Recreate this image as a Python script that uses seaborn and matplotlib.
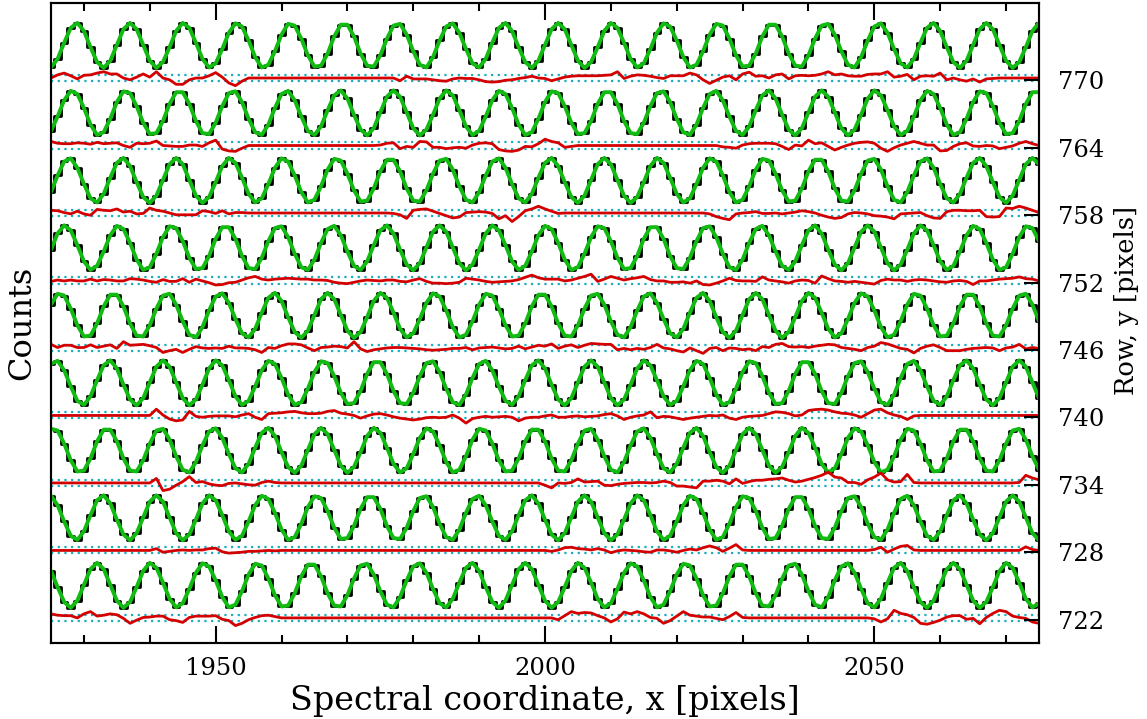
import numpy as np
import pandas as pd
import matplotlib
matplotlib.use("Agg")
import matplotlib.pyplot as plt
import seaborn as sns
from matplotlib.ticker import MultipleLocator

# spectral pixel positions (x) and detector rows (y)
pixel_x = np.arange(1925, 2076)
row_ids = [770, 764, 758, 752, 746, 740, 734, 728, 722]

# counts per pixel (0-100 scaled)
counts_770 = [1, 20, 56, 89, 100, 82, 46, 13, 0, 16, 51, 86,
              100, 86, 51, 16, 0, 13, 46, 82, 100, 89, 56, 20, 1, 10, 42, 78, 99, 92, 61, 24, 1, 7, 37, 74, 98, 94, 65, 28, 3, 5, 32, 70, 96, 96, 70, 32, 5, 3, 28, 65, 94, 98, 74, 37, 7, 1, 24, 61, 92, 99, 78, 42, 10, 1, 20, 56, 89, 100, 82, 46, 13, 0, 16, 51, 86,
              100, 86, 51, 16, 0, 13, 46, 82, 100, 89, 56, 20, 1, 10, 42, 78, 99, 92, 61, 24, 1, 7, 37, 74, 98, 94, 65, 28, 3, 5, 32, 70, 96, 96, 70, 32, 5, 3, 28, 65, 94, 98, 74, 37, 7, 1, 24, 61, 92, 99, 78, 42, 10, 1, 20, 56, 89, 100, 82, 46, 13, 0, 16, 51, 86,
              100, 86, 51, 16, 0, 13, 46, 82, 100]
counts_764 = [10, 42, 78, 99, 92, 61, 24, 1, 7, 37, 74, 98, 94, 65, 28, 3, 5, 32, 70, 96, 96, 70, 32, 5, 3, 28, 65, 94, 98, 74, 37, 7, 1, 24, 61, 92, 99, 78, 42, 10, 1, 20, 56, 89, 100, 82, 46, 13, 0, 16, 51, 86,
              100, 86, 51, 16, 0, 13, 46, 82, 100, 89, 56, 20, 1, 10, 42, 78, 99, 92, 61, 24, 1, 7, 37, 74, 98, 94, 65, 28, 3, 5, 32, 70, 96, 96, 70, 32, 5, 3, 28, 65, 94, 98, 74, 37, 7, 1, 24, 61, 92, 99, 78, 42, 10, 1, 20, 56, 89, 100, 82, 46, 13, 0, 16, 51, 86,
              100, 86, 51, 16, 0, 13, 46, 82, 100, 89, 56, 20, 1, 10, 42, 78, 99, 92, 61, 24, 1, 7, 37, 74, 98, 94, 65, 28, 3, 5, 32, 70, 96, 96]
counts_758 = [24, 61, 92, 99, 78, 42, 10, 1, 20, 56, 89, 100, 82, 46, 13, 0, 16, 51, 86,
              100, 86, 51, 16, 0, 13, 46, 82, 100, 89, 56, 20, 1, 10, 42, 78, 99, 92, 61, 24, 1, 7, 37, 74, 98, 94, 65, 28, 3, 5, 32, 70, 96, 96, 70, 32, 5, 3, 28, 65, 94, 98, 74, 37, 7, 1, 24, 61, 92, 99, 78, 42, 10, 1, 20, 56, 89, 100, 82, 46, 13, 0, 16, 51, 86,
              100, 86, 51, 16, 0, 13, 46, 82, 100, 89, 56, 20, 1, 10, 42, 78, 99, 92, 61, 24, 1, 7, 37, 74, 98, 94, 65, 28, 3, 5, 32, 70, 96, 96, 70, 32, 5, 3, 28, 65, 94, 98, 74, 37, 7, 1, 24, 61, 92, 99, 78, 42, 10, 1, 20, 56, 89, 100, 82, 46, 13, 0, 16, 51, 86,
              100, 86]
counts_752 = [46, 82, 100, 89, 56, 20, 1, 10, 42, 78, 99, 92, 61, 24, 1, 7, 37, 74, 98, 94, 65, 28, 3, 5, 32, 70, 96, 96, 70, 32, 5, 3, 28, 65, 94, 98, 74, 37, 7, 1, 24, 61, 92, 99, 78, 42, 10, 1, 20, 56, 89, 100, 82, 46, 13, 0, 16, 51, 86,
              100, 86, 51, 16, 0, 13, 46, 82, 100, 89, 56, 20, 1, 10, 42, 78, 99, 92, 61, 24, 1, 7, 37, 74, 98, 94, 65, 28, 3, 5, 32, 70, 96, 96, 70, 32, 5, 3, 28, 65, 94, 98, 74, 37, 7, 1, 24, 61, 92, 99, 78, 42, 10, 1, 20, 56, 89, 100, 82, 46, 13, 0, 16, 51, 86,
              100, 86, 51, 16, 0, 13, 46, 82, 100, 89, 56, 20, 1, 10, 42, 78, 99, 92, 61, 24, 1, 7, 37, 74, 98, 94, 65]
counts_746 = [74, 98, 94, 65, 28, 3, 5, 32, 70, 96, 96, 70, 32, 5, 3, 28, 65, 94, 98, 74, 37, 7, 1, 24, 61, 92, 99, 78, 42, 10, 1, 20, 56, 89, 100, 82, 46, 13, 0, 16, 51, 86,
              100, 86, 51, 16, 0, 13, 46, 82, 100, 89, 56, 20, 1, 10, 42, 78, 99, 92, 61, 24, 1, 7, 37, 74, 98, 94, 65, 28, 3, 5, 32, 70, 96, 96, 70, 32, 5, 3, 28, 65, 94, 98, 74, 37, 7, 1, 24, 61, 92, 99, 78, 42, 10, 1, 20, 56, 89, 100, 82, 46, 13, 0, 16, 51, 86,
              100, 86, 51, 16, 0, 13, 46, 82, 100, 89, 56, 20, 1, 10, 42, 78, 99, 92, 61, 24, 1, 7, 37, 74, 98, 94, 65, 28, 3, 5, 32, 70, 96, 96, 70, 32, 5, 3, 28, 65, 94, 98, 74, 37]
counts_740 = [92, 99, 78, 42, 10, 1, 20, 56, 89, 100, 82, 46, 13, 0, 16, 51, 86,
              100, 86, 51, 16, 0, 13, 46, 82, 100, 89, 56, 20, 1, 10, 42, 78, 99, 92, 61, 24, 1, 7, 37, 74, 98, 94, 65, 28, 3, 5, 32, 70, 96, 96, 70, 32, 5, 3, 28, 65, 94, 98, 74, 37, 7, 1, 24, 61, 92, 99, 78, 42, 10, 1, 20, 56, 89, 100, 82, 46, 13, 0, 16, 51, 86,
              100, 86, 51, 16, 0, 13, 46, 82, 100, 89, 56, 20, 1, 10, 42, 78, 99, 92, 61, 24, 1, 7, 37, 74, 98, 94, 65, 28, 3, 5, 32, 70, 96, 96, 70, 32, 5, 3, 28, 65, 94, 98, 74, 37, 7, 1, 24, 61, 92, 99, 78, 42, 10, 1, 20, 56, 89, 100, 82, 46, 13, 0, 16, 51, 86,
              100, 86, 51, 16]
counts_734 = [98, 94, 65, 28, 3, 5, 32, 70, 96, 96, 70, 32, 5, 3, 28, 65, 94, 98, 74, 37, 7, 1, 24, 61, 92, 99, 78, 42, 10, 1, 20, 56, 89, 100, 82, 46, 13, 0, 16, 51, 86,
              100, 86, 51, 16, 0, 13, 46, 82, 100, 89, 56, 20, 1, 10, 42, 78, 99, 92, 61, 24, 1, 7, 37, 74, 98, 94, 65, 28, 3, 5, 32, 70, 96, 96, 70, 32, 5, 3, 28, 65, 94, 98, 74, 37, 7, 1, 24, 61, 92, 99, 78, 42, 10, 1, 20, 56, 89, 100, 82, 46, 13, 0, 16, 51, 86,
              100, 86, 51, 16, 0, 13, 46, 82, 100, 89, 56, 20, 1, 10, 42, 78, 99, 92, 61, 24, 1, 7, 37, 74, 98, 94, 65, 28, 3, 5, 32, 70, 96, 96, 70, 32, 5, 3, 28, 65, 94, 98, 74, 37, 7]
counts_728 = [99, 78, 42, 10, 1, 20, 56, 89, 100, 82, 46, 13, 0, 16, 51, 86,
              100, 86, 51, 16, 0, 13, 46, 82, 100, 89, 56, 20, 1, 10, 42, 78, 99, 92, 61, 24, 1, 7, 37, 74, 98, 94, 65, 28, 3, 5, 32, 70, 96, 96, 70, 32, 5, 3, 28, 65, 94, 98, 74, 37, 7, 1, 24, 61, 92, 99, 78, 42, 10, 1, 20, 56, 89, 100, 82, 46, 13, 0, 16, 51, 86,
              100, 86, 51, 16, 0, 13, 46, 82, 100, 89, 56, 20, 1, 10, 42, 78, 99, 92, 61, 24, 1, 7, 37, 74, 98, 94, 65, 28, 3, 5, 32, 70, 96, 96, 70, 32, 5, 3, 28, 65, 94, 98, 74, 37, 7, 1, 24, 61, 92, 99, 78, 42, 10, 1, 20, 56, 89, 100, 82, 46, 13, 0, 16, 51, 86,
              100, 86, 51, 16, 0]
counts_722 = [82, 46, 13, 0, 16, 51, 86,
              100, 86, 51, 16, 0, 13, 46, 82, 100, 89, 56, 20, 1, 10, 42, 78, 99, 92, 61, 24, 1, 7, 37, 74, 98, 94, 65, 28, 3, 5, 32, 70, 96, 96, 70, 32, 5, 3, 28, 65, 94, 98, 74, 37, 7, 1, 24, 61, 92, 99, 78, 42, 10, 1, 20, 56, 89, 100, 82, 46, 13, 0, 16, 51, 86,
              100, 86, 51, 16, 0, 13, 46, 82, 100, 89, 56, 20, 1, 10, 42, 78, 99, 92, 61, 24, 1, 7, 37, 74, 98, 94, 65, 28, 3, 5, 32, 70, 96, 96, 70, 32, 5, 3, 28, 65, 94, 98, 74, 37, 7, 1, 24, 61, 92, 99, 78, 42, 10, 1, 20, 56, 89, 100, 82, 46, 13, 0, 16, 51, 86,
              100, 86, 51, 16, 0, 13, 46, 82, 100, 89, 56, 20, 1, 10]

# fit residuals per pixel, same units as counts
resid_770 = [0, 7, 11, 5, -2, 6, 7, 11, 14, 9, 9, 0, -4, 2, 9, 2, 14, 0, -4, -14, -14, -4, 0, 0, 5, 12, 2, -11, -17, -7, 0,
             0, 0, 0, 0, 0, 0, 0, 0, 0, 0, 0, 0, 0, 0, 0, 0, 0, 0, 0, 0, 0, 0,
             -6, 4, -2, -2, -2, -4, -6, -7, -2, 0, -1, -1, -4, -8, -9, -8, -5, -4, -1, 1, 4, 0, -1, -6, -2, 2, 4, 5, 5, 5,
             5, 6, 7, 14, -1, 4, 7, 6, 4, 1, -1, 5, 5, 5, 11, 7, -4, -12,
             -5, 2, 5, -4, 9, 13, 4, 5, 0, 7, 9, -2, 5, 6, 5, 6, 9, 14, 7, 9, 5, 4, 4, 8, 9, 9, 14, 2, 4, 8,
             -4, 4, 5, 4, 11, -4, 0, -4, -7, -2, -9, -2, -1,
             0, 0, 0, 0, 0, 0, 0]
resid_764 = [9, 5, 4, 4, 6, 5, 3, 7, 4, 5, 6, 0, -4, 5, 4, 5, 10, 0, -1, -2, -2, 1, 1, -2, 6, 12, -8, -12, -13, -6, 0,
             0, 0, 0, 0, 0, 0, 0, 0, 0, 0, 0, 0, 0, 0, 0, 0, 0, 0, 0,
             1, 5, 6, -7, -2, -4, 9, 8, -4, -4, -7, -5, -4, -6, 1, 5, 6, 4, -9, -12, -13, -10, -2, -3, 4, 14, 9, 6, -4, -2, 0,
             0, 0, 0, 0, 0, 0, 0, 0, 0, 0, 0, 0, 0, 0, 0, 0, 0, 0, 0, 0, 0,
             -3, -4, -6, 1, 4, 5, 5, 5, 4, -2, -9, 1, -1, 12, 4, 6, -2, -10, -4, 1, 5, 7, 8, 5, -6,
             -13, -5, 1, 5, 9, 5, 1, 1, -12, -11, -2, 4, 6, -1, -2, 0, -1, -7, -4, -1, 5, 9, 4, 0]
resid_758 = [6, 5, 1, -2, 4, -2, -5, 8, 6, 5, 9, 2, 4, -2, -1, 11, 6, 4, 0, -4, -4, -4, -4, 5, 3, -1, 5, -2, 1, 1, 0,
             0, 0, 0, 0, 0, 0, 0, 0, 0, 0, 0, 0, 0, 0, 0, 0, 0, 0, 0, 0, 0,
             -1, -4, -12, 6, 8, 9, 4, -1, -6, -11, -9, 1, 2, 3, 2, -1, -13, -6, -19, -8, 5, 9, 15, 9, 4, -1,
             0, 0, 0, 0, 0, 0, 0, 0, 0, 0, 0, 0, 0, 0, 0, 0, 0, 0, 0, 0, 0, 0,
             -2, -8, -12, -15, -2, 0, 1, 3, -1, -1, 0, -2, 0, 2, 5, 3, 0, -5, -9, -12, -10, -2, 1, 0, -2,
             -6, -7, -9, -13, -2, -1, 0, 1, -6, -11, -12, 3, 6, 6, 5, 5, 6, -8, -9, -8, 11, 10, 15, 11, 6, 1]
resid_752 = [-2, 1, -1, 1, -1, -1, 3, -1, 2, 1, -1, -1, 4, 3, 1, -2, -4, 2, -2, -2, 4, -4, 3, -1, -5,
             -10, -9, -5, -4, 1, 6, 9, 3, 1, 3, 4, 5, 4, 3, 3, 1, 1, 0, -4, -6, -7, -4, -1, 1, 0,
             -1, 1, 1, -2, -3, 1, 4, -2, -6, -6, -7, -6, -4, 5, 3, 1, -2, -4, -3, -2, -1, 2, 7, 12, 6,
             3, 3, 3, -1, 1, 5, 9, 14, -2, 3, 9, 5, 1, 4, 6, 9, 2, -1, -1, -4, -4, -3, -6, -1, -9,
             -10, -6, -1, 5, 0, -1, -1, -2, 8, 1, -1, -3, -6, -1, 1, 0, -6, 10, 4, -1, -2, -4, -2, -4, -6,
             -8, 0, 3, 1, 1, -2, 1, 2, 1, -1, -3, -4, -1, 0, -2, -9, -1, -1, 1, 3, 4, 5, 8, 4, 3, -1]
resid_746 = [8, 1, 6, 6, 1, 1, 7, 1, 4, 7, -1, 14, 6, 7, 8, 5, 1, -10, -6, -3, -10, -3, 3, 0, -1,
             0, -1, 4, 0, 0, -1, -4, -10, 1, -1, 5, 9, 9, 7, 0, -6, 1, 2, 4, 3, 0, 14, -2, -8, -4,
             -2, 0, 1, 1, 0, -1, -2, -4, -5, -4, -3, -1, -1, 1, -4, 0, 1, 2, 0, -2, -1, 4, -2, 2, 6,
             4, 9, -1, 4, 7, 1, 6, 10, 9, 8, 8, -4, -1, -4, -1, -3, 1, 8, 0, -2, -6, -9, 0, -6, -12,
             -1, 1, -6, 0, -1, -4, -2, -6, 3, 1, 8, 10, 3, 2, 3, 1, 4, 6, 8, 7, 1, -1, -3, -6, 1,
             4, 12, 9, 4, -1, -3, -11, -1, 4, 7, 1, -6, -6, -6, -3, -1, 0, 1, 0, -6, 0, 2, 8, -2, 1, -1]
resid_740 = [0, 0, 0, 0, 0, 0, 0, 0, 0, 0, 0, 0, 0, 0, 0, 0,
             14, 1, -8, -12, -10, 9, -2, -4, -2, -1, -1, -1, -3, 1, 4, -4, -9, 4, 5, 6,
             8, 9, 6, 4, 4, 5, 9, 11, 5, 3, 0, -6, -1, 3,
             4, 1, -3, -6, -8, -10, -8, -5, -4, -5, -4, 1, -6, -17, -7, -4, -2, -4, -3, -2, -4, -12, -6, -4, -4,
             -1, 1, -4, -4, -2, -1, -3, -2, -1, 2, 4, -1, -9, -4, -1, 1, 8, -5, -2, -3, -6, -9, -6, -4, -2,
             0, -1, 1, -6, -9, -4, -2, -1, 0, 4, 8, 7, 4, -1, 1, 11, 13, 14, 12, 8, 5, 4, 1, -4, 4,
             12, 14, 6, 1, -2, -9, -1,
             0, 0, 0, 0, 0, 0, 0, 0, 0, 0, 0, 0, 0, 0, 0, 0, 0, 0, 0]
resid_734 = [0, 0, 0, 0, 0, 0, 0, 0, 0, 0, 0, 0, 0, 0, 0, 0,
             10, -17, -14, -5, 3, 14, 1, 3, -2, -5, -6, -1, 0, -2, -4, -5, 1, 4, 1,
             0, 0, 0, 0, 0, 0, 0, 0, 0, 0, 0, 0, 0, 0, 0, 0, 0, 0, 0, 0,
             0, 0, 0, 0, 0, 0, 0, 0, 0, 0, 0, 0, 0, 0, 0, 0, 0, 0, 0, 0,
             -5, -11, 0, -1, 1, 9, 2, 3, 4, -5, -6, -3, -1, 0, 1, 1, 0, 1, 4, 1, -7, -7, -9, -11, 4,
             4, 6, 4, -2, 9, -1, 3, 6, 6, 8, 9, 11, 6, 2, 4, 8, 12, 17, 24, 13, 11, 1, 1, -3, 7, 13,
             22, 7, 2, 3, 19, 1,
             0, 0, 0, 0, 0, 0, 0, 0, 0, 0, 0, 0, 0, 0, 0,
             1, 17, 11, 7]
resid_728 = [0, 0, 0, 0, 0, 0, 0, 0, 0, 0, 0, 0, 0, 0, 0, 0,
             4, -4, -2, 0, 1, 0, 1, 1, 4, 5, -3, -6, -5, -4, -2, -2, -1, 0, -1,
             0, 0, 0, 0, 0, 0, 0, 0, 0, 0, 0, 0, 0, 0, 0, 0, 0, 0, 0, 0, 0,
             0, 0, 0, 0, 0, 0, 0, 0, 0, 0, 0, 0, 0, 0, 0, 0, 0, 0, 0, 0,
             -2, 1, 6, 7, 4, 3, 1, 4, 1, -5, -1, 1, 0, -1, -3, -4, 1, 1, -1, -4, 0, 3, 1, 6,
             10, 6, -2, 5, 13, 1,
             0, 0, 0, 0, 0, 0, 0, 0, 0, 0, 0, 0, 0, 0, 0, 0, 0, 0, 0,
             2, 7, -4, 3, 9, 11, 1,
             0, 0, 0, 0, 0, 0, 0, 0, 0, 0, 0, 0, 0, 0, 0, 0,
             8, 2, 0]
resid_722 = [9, 6, 5, 5, 0, 9, 14, 4, 6, 9, 7, -1, -12, -5, 1, 2, 4, 4, -4, -6, -10, 1, 4, 4, 4,
             5, -3, -6, -17, -12, -4, 1, 5, 6, 3, 0,
             0, 0, 0, 0, 0, 0, 0, 0, 0, 0, 0, 0, 0, 0, 0, 0, 0, 0, 0, 0,
             0, 0, 0, 0, 0, 0, 0, 0, 0, 0, 0, 0, 0, 0, 0, 0, 0, 0, 0, 0, 0,
             -4, 5, 14, 10, 12, 11, 5, 0, -9, -2, 13, 9, 14, 9, 1, -1, -12, -6, 4, 14, 6, 4, 2,
             2, -1, -4, 3, 12, 1,
             0, 0, 0, 0, 0, 0, 0, 0, 0, 0, 0, 0, 0, 0, 0, 0, 0, 0, 0,
             -2, -9, -2, 17, 10, 7, 1, -12, -14, -10, -5, 2, 5, 5, -3, -1, -13, 1, 10, 17, 14, 4, 1, -1, -9, -12]

counts_by_row = {770: counts_770, 764: counts_764, 758: counts_758, 752: counts_752, 746: counts_746,
                 740: counts_740, 734: counts_734, 728: counts_728, 722: counts_722}
resid_by_row = {770: resid_770, 764: resid_764, 758: resid_758, 752: resid_752, 746: resid_746,
                740: resid_740, 734: resid_734, 728: resid_728, 722: resid_722}

# vertical layout in row units
SIG_BASE = 1.08
SCALE = 0.040
RES_ZERO = 0.18
BAND = 0.27

sns.set_style("ticks")
plt.rcParams['font.family'] = ['DejaVu Serif']
plt.rcParams.update({'text.color': 'black', 'axes.labelcolor': 'black',
                     'xtick.color': 'black', 'ytick.color': 'black',
                     'axes.edgecolor': 'black'})

fig = plt.figure(figsize=(11.47, 7.19), dpi=100)
ax = fig.add_axes([51 / 1147, 1 - 643 / 719, 988 / 1147, 640 / 719])

for r in row_ids:
    c = np.array(counts_by_row[r], dtype=float)
    res = np.array(resid_by_row[r], dtype=float)
    xs = pixel_x[:len(c)]
    df = pd.DataFrame({'x': xs, 'sig': r + SIG_BASE + SCALE * c})
    sns.lineplot(data=df, x='x', y='sig', ax=ax, color='black', lw=2.0,
                 drawstyle='steps-mid', estimator=None, legend=False, zorder=2)
    sns.lineplot(data=df, x='x', y='sig', ax=ax, color='#12bb12', lw=2.8,
                 estimator=None, legend=False, zorder=3)
    for off in (-BAND, BAND):
        ax.axhline(r + RES_ZERO + off, color='#1aaec0', lw=1.6,
                   linestyle=(0, (1, 2)), zorder=1)
    dres = pd.DataFrame({'x': pixel_x[:len(res)], 'res': r + RES_ZERO + SCALE * res})
    sns.lineplot(data=dres, x='x', y='res', ax=ax, color='#d40000', lw=2.0,
                 estimator=None, legend=False, zorder=4)

ylo, yhi = 719.95, 776.85
ax.set_xlim(1925, 2075)
ax.set_ylim(ylo, yhi)
ax.xaxis.set_major_locator(MultipleLocator(50))
ax.xaxis.set_minor_locator(MultipleLocator(10))
ax.tick_params(axis='x', which='major', direction='in', length=12, width=1.5,
               top=True, bottom=True, labelsize=17.5, pad=10)
ax.tick_params(axis='x', which='minor', direction='in', length=6, width=1.5,
               top=True, bottom=True)
ax.set_yticks([])
ax.set_xlabel('Spectral coordinate, x [pixels]', fontsize=24, labelpad=4)
ax.set_ylabel('Counts', fontsize=23, labelpad=10)
for s in ax.spines.values():
    s.set_linewidth(1.5)

ax2 = ax.twinx()
ax2.set_ylim(ylo, yhi)
ax2.set_yticks(row_ids)
ax2.set_yticklabels([str(r) for r in row_ids])
ax2.tick_params(axis='y', direction='in', length=11, width=1.5, labelsize=17.5, pad=14)
ax2.set_ylabel('Row, y [pixels]', fontsize=18.5)
ax2.yaxis.set_label_coords(1.076, 0.535)
for s in ax2.spines.values():
    s.set_linewidth(1.5)

fig.savefig('out.png', dpi=100)
